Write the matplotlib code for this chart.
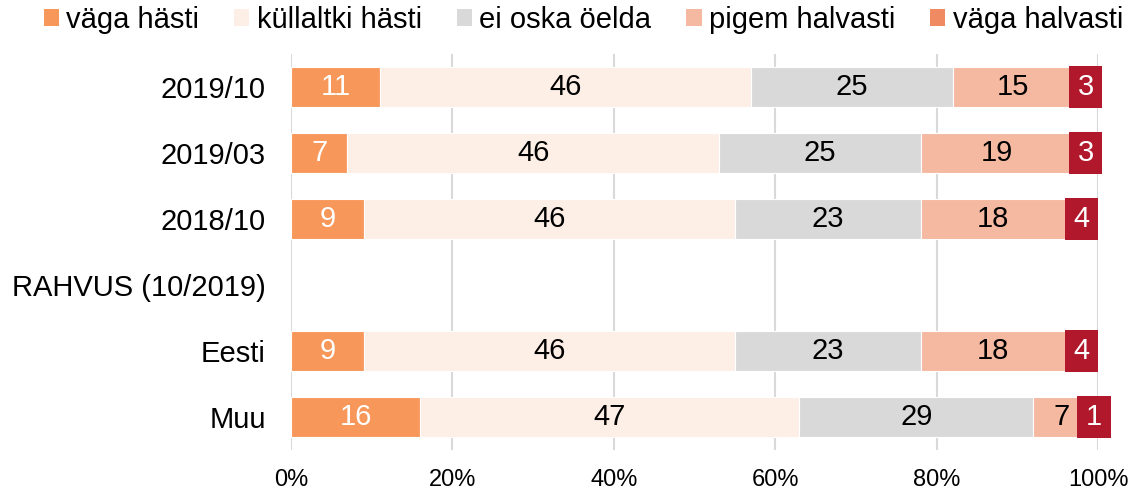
"""Stacked horizontal bar chart of survey answers by period and nationality."""

import matplotlib

matplotlib.use("Agg")
import matplotlib.pyplot as plt
import numpy as np
from matplotlib.patches import Patch

plt.rcParams["font.family"] = ["Liberation Sans", "DejaVu Sans"]

categories = ["2019/10", "2019/03", "2018/10", "RAHVUS (10/2019)", "Eesti", "Muu"]
answers = ["väga hästi", "küllaltki hästi", "ei oska öelda", "pigem halvasti", "väga halvasti"]

# one list per answer, NaN for the group heading row
vaga_hasti = [11, 7, 9, np.nan, 9, 16]
kullaltki_hasti = [46, 46, 46, np.nan, 46, 47]
ei_oska = [25, 25, 23, np.nan, 23, 29]
pigem_halvasti = [15, 19, 18, np.nan, 18, 7]
vaga_halvasti = [3, 3, 4, np.nan, 4, 1]

series = [vaga_hasti, kullaltki_hasti, ei_oska, pigem_halvasti, vaga_halvasti]
bar_colors = ["#F8975A", "#FDEFE6", "#D9D9D9", "#F4B9A0", "#EF8A62"]
text_colors = ["white", "black", "black", "black", "white"]
label_box = "#B2182B"  # the last series shows its label in a dark red box

fig = plt.figure(figsize=(11.38, 4.91), dpi=100)
ax = fig.add_axes([0.2557, 0.0835, 0.7092, 0.8065])

y = np.arange(len(categories))
left = np.zeros(len(categories))
for i, (vals, color, tcolor) in enumerate(zip(series, bar_colors, text_colors)):
    vals = np.array(vals, dtype=float)
    ax.barh(y, vals, left=left, height=0.6, color=color, edgecolor="white",
            linewidth=0.8, zorder=3)
    centers = left + vals / 2
    if i == len(series) - 1:
        boxes = ax.barh(y, 4.1, left=centers - 2.05, height=0.64, color=label_box,
                        edgecolor="none", zorder=4)
        for b in boxes:
            b.set_clip_on(False)
    for yi, (c, v) in enumerate(zip(centers, vals)):
        if np.isnan(v):
            continue
        ax.text(c, yi, f"{int(v)}", ha="center", va="center",
                color=tcolor, fontsize=21, zorder=5, clip_on=False)
    left = left + np.nan_to_num(vals)

ax.set_xlim(0, 100)
ax.set_ylim(len(categories) - 0.5, -0.5)
ax.set_yticks(y)
ax.set_yticklabels(categories, fontsize=21)
ax.set_xticks(np.arange(0, 101, 20))
ax.set_xticklabels([f"{t}%" for t in range(0, 101, 20)], fontsize=17)
ax.tick_params(axis="x", length=0, pad=14)
ax.tick_params(axis="y", length=0, pad=18)
ax.grid(axis="x", color="#D9D9D9", linewidth=1.5, zorder=0)
for s in ax.spines.values():
    s.set_visible(False)

handles = [Patch(facecolor=c, edgecolor="none") for c in bar_colors]
fig.legend(handles, answers, loc="center", bbox_to_anchor=(0.5127, 0.959),
           ncol=5, frameon=False, fontsize=21, handlelength=0.52,
           handleheight=0.52, handletextpad=0.25, columnspacing=1.2,
           borderaxespad=0, borderpad=0)

fig.savefig("out.png", dpi=100)
